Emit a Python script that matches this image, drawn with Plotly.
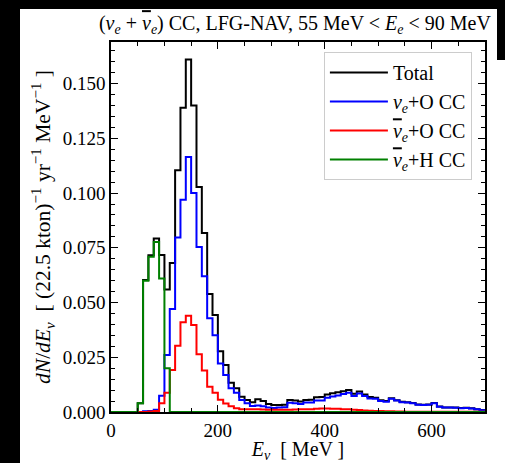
import plotly.graph_objects as go

# Bin lower edges (MeV), 10 MeV bins from 0 to 700
bin_edges = list(range(0, 710, 10))

total = [0, 0, 0, 0, 0, 0.004, 0.0603, 0.0716, 0.0792, 0.0717,
         0.056, 0.068, 0.1104, 0.139, 0.161, 0.140, 0.1028, 0.0818, 0.0539, 0.0443,
         0.0278, 0.0215, 0.0134, 0.0108, 0.0070, 0.0055, 0.0044, 0.0058, 0.0050, 0.0037,
         0.0032, 0.0032, 0.0033, 0.0055, 0.0052, 0.0048, 0.0055, 0.0056, 0.0067, 0.0068,
         0.0080, 0.0086, 0.0090, 0.0095, 0.0100, 0.0083, 0.0094, 0.0080, 0.0068, 0.0065,
         0.0054, 0.0050, 0.0063, 0.0054, 0.0047, 0.0044, 0.0041, 0.0034, 0.0033, 0.0034,
         0.0041, 0.0025, 0.0021, 0.0021, 0.0020, 0.0018, 0.0019, 0.0017, 0.0013, 0.0009]

nue_O = [0, 0, 0, 0, 0, 0, 0.0003, 0.0005, 0.001, 0.0074,
         0.026, 0.047, 0.0797, 0.097, 0.1165, 0.100, 0.0754, 0.062, 0.0428, 0.0351,
         0.0222, 0.0169, 0.0108, 0.0088, 0.0055, 0.0040, 0.0027, 0.0030, 0.0026, 0.0020,
         0.0018, 0.0020, 0.0022, 0.0042, 0.0040, 0.0037, 0.0043, 0.0043, 0.0052, 0.0052,
         0.0065, 0.0071, 0.0075, 0.0082, 0.0088, 0.0073, 0.0085, 0.0073, 0.0062, 0.0060,
         0.0050, 0.0047, 0.0060, 0.0052, 0.0045, 0.0043, 0.0040, 0.0033, 0.0032, 0.0033,
         0.0040, 0.0024, 0.0020, 0.0020, 0.0019, 0.0017, 0.0018, 0.0016, 0.0012, 0.0008]

nuebar_O = [0, 0, 0, 0, 0, 0, 0, 0.0002, 0.0005, 0.004,
            0.0088, 0.0192, 0.0303, 0.041, 0.044, 0.0397, 0.0264, 0.019, 0.0115, 0.0088,
            0.0056, 0.0039, 0.0026, 0.0017, 0.0013, 0.0012, 0.0012, 0.0012, 0.0011, 0.0010,
            0.0010, 0.0010, 0.0010, 0.0010, 0.0011, 0.0012, 0.0012, 0.0013, 0.0015, 0.0016,
            0.0016, 0.0015, 0.0015, 0.0013, 0.0012, 0.0010, 0.0009, 0.0007, 0.0006, 0.0005,
            0.0004, 0.0003, 0.0003, 0.0002, 0.0002, 0.0001, 0.0001, 0.0001, 0.0001, 0.0001,
            0.0001, 0.0001, 0.0001, 0.0001, 0.0001, 0.0001, 0.0001, 0.0001, 0.0001, 0.0001]

nuebar_H = [0, 0, 0, 0, 0, 0.004, 0.060, 0.0709, 0.0777, 0.061,
            0.020, 0, 0, 0, 0, 0, 0, 0, 0, 0,
            0, 0, 0, 0, 0, 0, 0, 0, 0, 0,
            0, 0, 0, 0, 0, 0, 0, 0, 0, 0,
            0, 0, 0, 0, 0, 0, 0, 0, 0, 0,
            0, 0, 0, 0, 0, 0, 0, 0, 0, 0,
            0, 0, 0, 0, 0, 0, 0, 0, 0, 0]

NUBAR = '<span style="text-decoration:overline"><i>ν</i></span>'

series = [
    ("Total", total, "#000000"),
    ("<i>ν</i><sub><i>e</i></sub>+O CC", nue_O, "#0000ff"),
    (NUBAR + "<sub><i>e</i></sub>+O CC", nuebar_O, "#ff0000"),
    (NUBAR + "<sub><i>e</i></sub>+H CC", nuebar_H, "#008000"),
]

FONT = "Liberation Serif"

fig = go.Figure()
for i, (name, vals, col) in enumerate(series):
    fig.add_trace(go.Scatter(
        x=bin_edges, y=list(vals) + [vals[-1]],
        mode="lines", line=dict(color=col, width=2, shape="hv"),
        name=name, legendgroup=str(i),
    ))

axis_common = dict(
    showline=True, linecolor="black", linewidth=1.5, mirror="allticks",
    ticks="inside", ticklen=7, tickwidth=1, tickcolor="black",
    showgrid=False, zeroline=False, automargin=False,
    tickfont=dict(family=FONT, size=19, color="black"),
)

PX0, PW, PY0, PH = 111, 374, 412, 370  # plot area (px) for paper coords of strips
def px(x):
    return (x - PX0) / PW
def py(y):
    return (PY0 - y) / PH

strips = [
    (0, 20, 0, 463),    # left
    (0, 505, 0, 9),     # top
    (497, 505, 0, 60),  # right (upper part)
]
shapes = [dict(type="rect", xref="paper", yref="paper",
               x0=px(a), x1=px(b), y0=py(d), y1=py(c),
               fillcolor="black", line=dict(width=0), layer="below")
          for a, b, c, d in strips]

fig.update_layout(
    width=505, height=463,
    margin=dict(l=111, r=20, t=42, b=51),
    paper_bgcolor="white", plot_bgcolor="white",
    font=dict(family=FONT, color="black"),
    title=dict(
        text="(<i>ν</i><sub><i>e</i></sub> + " + NUBAR + "<sub><i>e</i></sub>) CC, LFG-NAV, 55 MeV &lt; <i>E</i><sub><i>e</i></sub> &lt; 90 MeV",
        x=0.584, xanchor="center", y=0.95, yanchor="middle",
        font=dict(family=FONT, size=20, color="black"),
    ),
    xaxis=dict(
        range=[0, 700], tickvals=[0, 200, 400, 600],
        minor=dict(dtick=50, ticks="inside", ticklen=4, tickcolor="black"),
        title=dict(text="<i>E</i><sub><i>ν</i></sub>  [ MeV ]", standoff=6,
                   font=dict(family=FONT, size=20, color="black")),
        **axis_common,
    ),
    yaxis=dict(
        range=[0, 0.169], dtick=0.025, tickformat=".3f",
        minor=dict(dtick=0.005, ticks="inside", ticklen=4, tickcolor="black"),
        title=dict(text="<i>dN</i>/<i>dE</i><sub><i>ν</i></sub>  [ (22.5 kton)<sup>−1</sup> yr<sup>−1</sup> MeV<sup>−1</sup> ]",
                   standoff=6, font=dict(family=FONT, size=21.5, color="black")),
        **axis_common,
    ),
    legend=dict(
        x=0.965, y=0.973, xanchor="right", yanchor="top",
        bgcolor="white", bordercolor="#cccccc", borderwidth=1,
        font=dict(family=FONT, size=20, color="black"),
        tracegroupgap=0, itemwidth=58,
    ),
    shapes=shapes,
)

fig.write_html("out.html")
